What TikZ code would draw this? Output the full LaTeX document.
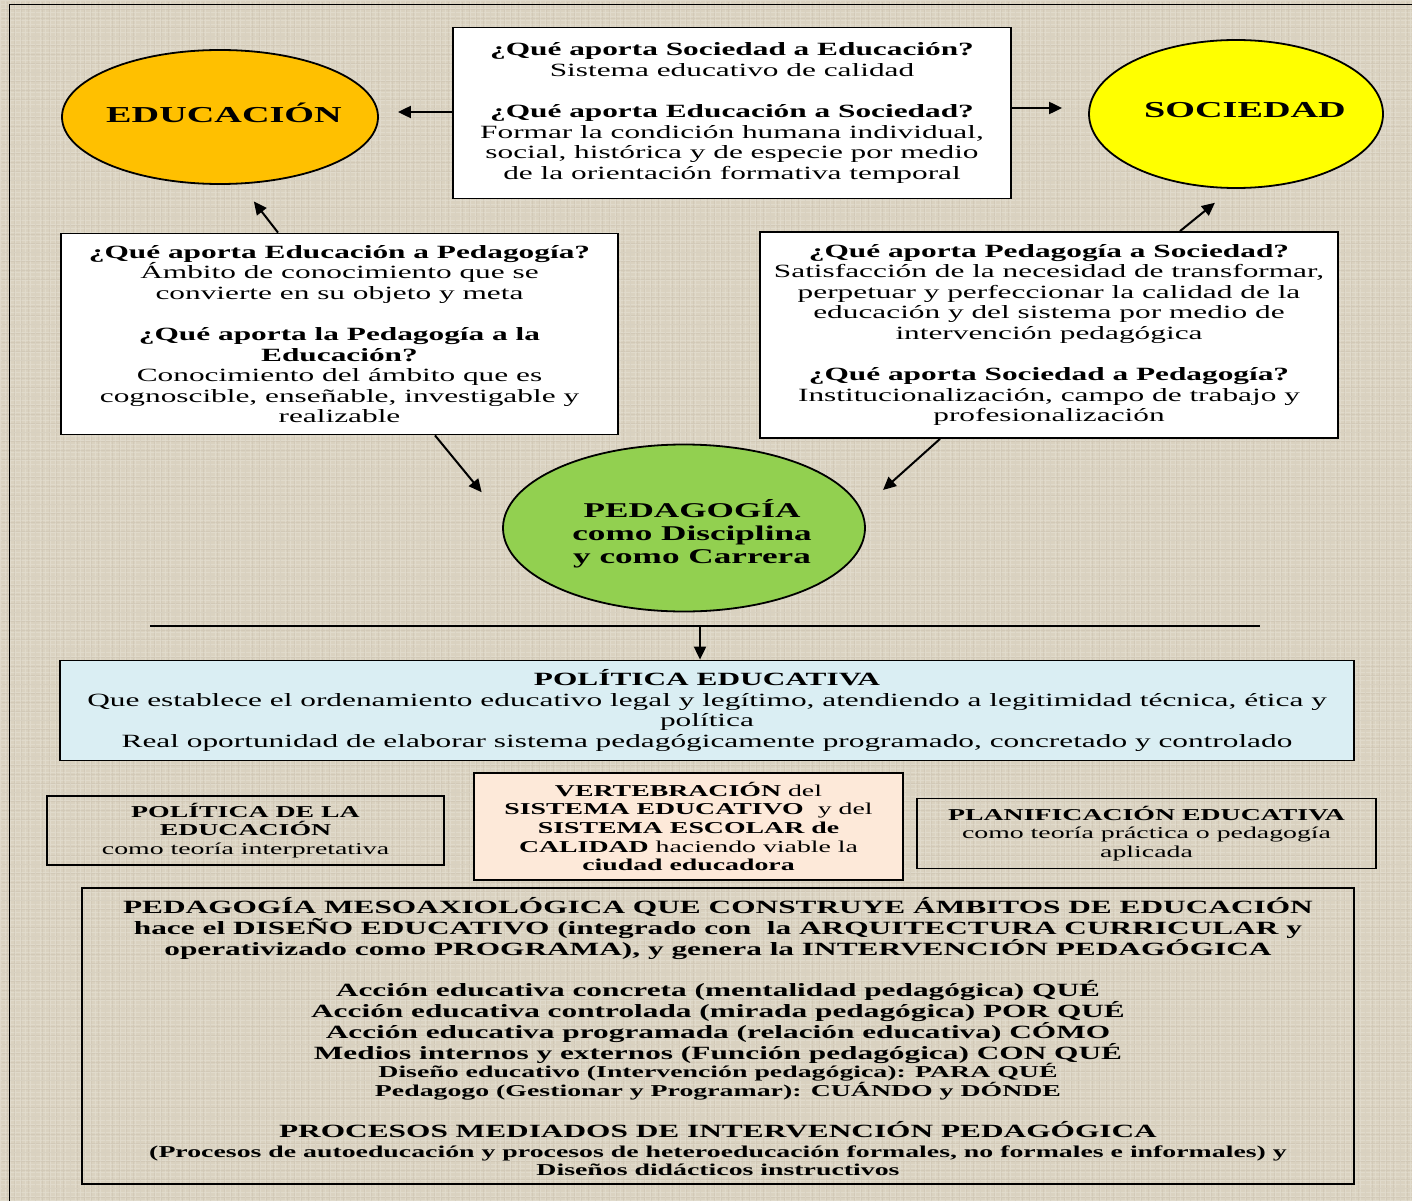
\documentclass[tikz,border=0pt]{standalone}
\usepackage{fontspec}
\setmainfont{Liberation Serif}[FakeStretch=1.675]
\usetikzlibrary{shapes.geometric,arrows.meta}
\definecolor{bgc}{RGB}{218,210,192}
\definecolor{orangeE}{HTML}{FFC000}
\definecolor{yellowS}{HTML}{FFFF00}
\definecolor{greenP}{HTML}{92D050}
\definecolor{blueP}{HTML}{DAEEF3}
\definecolor{peachV}{HTML}{FDE9D9}
\tikzset{
  ell/.style={ellipse, draw=black, line width=1.8pt, inner sep=0pt},
  box/.style={rectangle, draw=black, line width=1.8pt, inner sep=0pt, align=center},
  arr/.style={-{Triangle[length=13pt,width=12pt]}, line width=2pt},
  body/.style={font=\fontsize{18.7}{20.5}\selectfont},
  small/.style={font=\fontsize{16.6}{18.7}\selectfont},
  title/.style={font=\fontsize{22.8}{25}\selectfont\bfseries},
}
\begin{document}
\begin{tikzpicture}[x=1pt,y=-1pt]
\fill[bgc] (0,0) rectangle (1412,1201);
\useasboundingbox (0,0) rectangle (1412,1201);
% subtle fabric texture
\draw[white, opacity=0.18, line width=0.8pt, xstep=5pt, ystep=4pt] (0,0) grid (1412,1201);
\draw[black!60!brown, opacity=0.05, line width=0.6pt, xstep=7pt, ystep=9pt] (2,2) grid (1412,1201);
\draw[line width=1pt] (9,1201) -- (9,5) -- (1412,5);

% ellipses
\node[ell, fill=orangeE, minimum width=316pt, minimum height=134pt] (edu) at (220,117) {};
\node[title] (edut) at (224,113) {EDUCACIÓN};
\node[ell, fill=yellowS, minimum width=294pt, minimum height=148pt] (soc) at (1236,114) {};
\node[title] (soct) at (1245,110) {SOCIEDAD};
\node[ell, fill=greenP, minimum width=362pt, minimum height=167pt] (ped) at (684,528) {};
\node[align=center, font=\fontsize{21}{23}\selectfont\bfseries] (pedt) at (692,534)
  {PEDAGOGÍA\\como Disciplina\\y como Carrera};

% top box
\node[box, fill=white, minimum width=558pt, minimum height=171pt, body] (top) at (732,113)
  {{\bfseries ¿Qué aporta Sociedad a Educación?}\\
   Sistema educativo de calidad\\[21pt]
   {\bfseries ¿Qué aporta Educación a Sociedad?}\\
   Formar la condición humana individual,\\
   social, histórica y de especie por medio\\
   de la orientación formativa temporal};

% left box
\node[box, fill=white, minimum width=557pt, minimum height=201pt, body] (lbox) at (339.5,334)
  {{\bfseries ¿Qué aporta Educación a Pedagogía?}\\
   Ámbito de conocimiento que se\\
   convierte en su objeto y meta\\[21pt]
   {\bfseries ¿Qué aporta la Pedagogía a la}\\
   {\bfseries Educación?}\\
   Conocimiento del ámbito que es\\
   cognoscible, enseñable, investigable y\\
   realizable};

% right box
\node[box, fill=white, minimum width=578pt, minimum height=206pt, body] (rbox) at (1049,335)
  {{\bfseries ¿Qué aporta Pedagogía a Sociedad?}\\
   Satisfacción de la necesidad de transformar,\\
   perpetuar y perfeccionar la calidad de la\\
   educación y del sistema por medio de\\
   intervención pedagógica\\[21pt]
   {\bfseries ¿Qué aporta Sociedad a Pedagogía?}\\
   Institucionalización, campo de trabajo y\\
   profesionalización};

% arrows upper part
\draw[arr, shorten >=19pt] ([yshift=1pt]top.west) -- ([yshift=1pt]top.west -| edu.east);
\draw[arr, shorten >=26pt] ([yshift=5pt]top.east) -- ([yshift=5pt]top.east -| soc.west);
\draw[arr, shorten >=21pt] ([xshift=-61.5pt]lbox.north) -- ([xshift=21pt]edu.south);
\draw[arr, shorten >=22pt] ([xshift=131pt]rbox.north) -- ([xshift=-4pt]soc.south);
\draw[arr, shorten >=34pt] ([xshift=95.5pt]lbox.south) -- (ped.177);
\draw[arr, shorten >=29pt] ([xshift=-109pt]rbox.south) -- (ped.6);

% horizontal line and arrow
\draw[line width=1.2pt] (150,626) -- (1260,626);
\coordinate (hl) at (700,626);

% politica educativa
\node[box, fill=blueP, minimum width=1294pt, minimum height=100pt, body] (pol) at (707,710.5)
  {{\bfseries POLÍTICA EDUCATIVA}\\
   Que establece el ordenamiento educativo legal y legítimo, atendiendo a legitimidad técnica, ética y\\
   política\\
   Real oportunidad de elaborar sistema pedagógicamente programado, concretado y controlado};
\draw[arr] (hl) -- (hl |- pol.north);

% three boxes
\node[box, minimum width=397pt, minimum height=69pt, small] (pe) at (245.5,830.5)
  {{\bfseries POLÍTICA DE LA}\\
   {\bfseries EDUCACIÓN}\\
   como teoría interpretativa};
\node[box, fill=peachV, minimum width=429pt, minimum height=107pt, small] (ve) at (688.5,826.5)
  {{\bfseries VERTEBRACIÓN} del\\
   {\bfseries SISTEMA EDUCATIVO}\ \ y del\\
   {\bfseries SISTEMA ESCOLAR de}\\
   {\bfseries CALIDAD} haciendo viable la\\
   {\bfseries ciudad educadora}};
\node[box, minimum width=459pt, minimum height=70pt, small] (pl) at (1146.5,833.5)
  {{\bfseries PLANIFICACIÓN EDUCATIVA}\\
   como teoría práctica o pedagogía\\
   aplicada};

% bottom box
\node[box, minimum width=1272pt, minimum height=296pt] (mes) at (718,1036) {};
\node[align=center, font=\fontsize{18.7}{21}\selectfont\bfseries] (mest) at (718,1036.5)
  {PEDAGOGÍA MESOAXIOLÓGICA QUE CONSTRUYE ÁMBITOS DE EDUCACIÓN\\
   hace el DISEÑO EDUCATIVO (integrado con\ \ la ARQUITECTURA CURRICULAR y\\
   operativizado como PROGRAMA), y genera la INTERVENCIÓN PEDAGÓGICA\\[20pt]
   Acción educativa concreta (mentalidad pedagógica) QUÉ\\
   Acción educativa controlada (mirada pedagógica) POR QUÉ\\
   Acción educativa programada (relación educativa) CÓMO\\
   Medios internos y externos (Función pedagógica) CON QUÉ\\[-3pt]
   {\fontsize{16.6}{18.5}\selectfont Diseño educativo (Intervención pedagógica): PARA QUÉ}\\[-2pt]
   {\fontsize{16.6}{18.5}\selectfont Pedagogo (Gestionar y Programar): CUÁNDO y DÓNDE}\\[20pt]
   PROCESOS MEDIADOS DE INTERVENCIÓN PEDAGÓGICA\\[-1pt]
   {\fontsize{16.6}{17.5}\selectfont (Procesos de autoeducación y procesos de heteroeducación formales, no formales e informales) y}\\[-3pt]
   {\fontsize{16.6}{17.5}\selectfont Diseños didácticos instructivos}};
\end{tikzpicture}
\end{document}
